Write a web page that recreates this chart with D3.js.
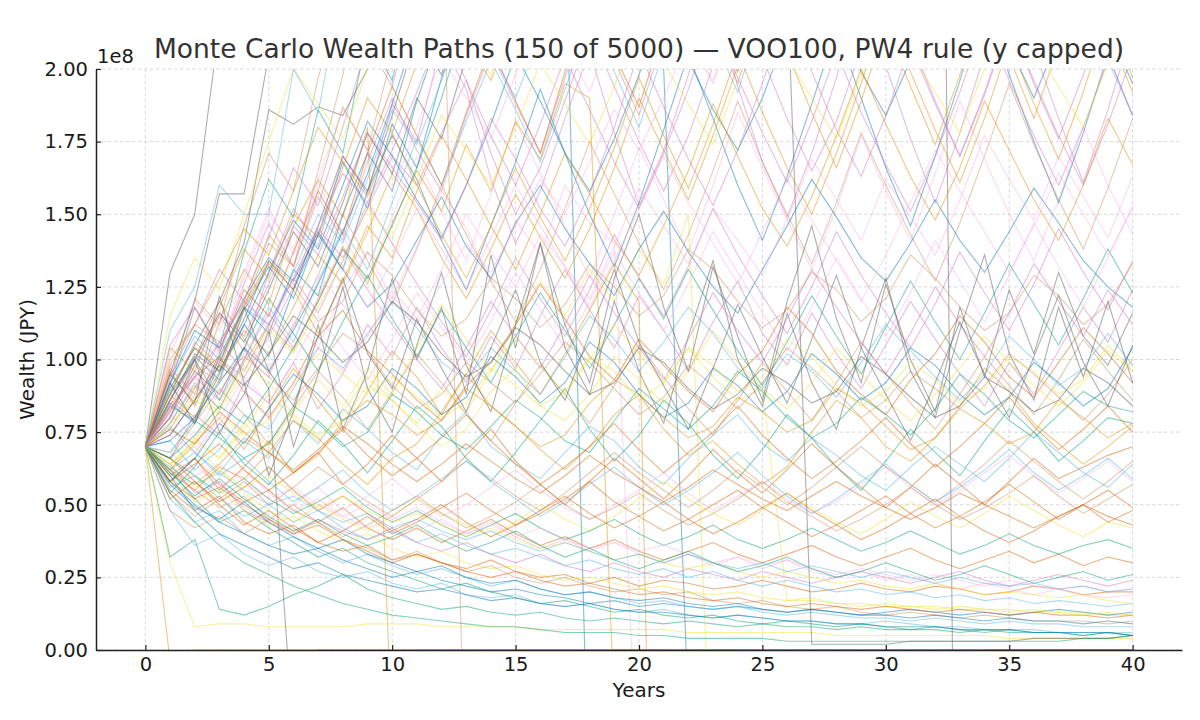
<!DOCTYPE html>
<html>
<head>
<meta charset="utf-8">
<script src="https://cdn.jsdelivr.net/npm/d3@7"></script>
<style>
  body { margin: 0; background: #fff; }
  svg { display: block; font-family: 'DejaVu Sans', sans-serif; }
</style>
</head>
<body>
<script>
// values are in millions of JPY (axis shows them as x1e8)
const years = [0,1,2,3,4,5,6,7,8,9,10,11,12,13,14,15,16,17,18,19,20,21,22,23,24,25,26,27,28,29,30,31,32,33,34,35,36,37,38,39,40]
const xTickValues = [0,5,10,15,20,25,30,35,40]
const yTickValues = [0,25,50,75,100,125,150,175,200]
const palette = ['#0173b2','#de8f05','#029e73','#d55e00','#cc78bc','#ca9161','#fbafe4','#555555','#ece133','#56b4e9']

const wealthPaths = [
  [70, 84,79,101,118,109,131,122,150,171,158, 189,214,236,201,229,262,250,-62,0,0, 0,0,0,0,0,0,0,0,0,0, 0,0,0,0,0,0,0,0,0,0],
  [70, -4,0,0,0,0,0,0,0,0,0, 0,0,0,0,0,0,0,0,0,0, 0,0,0,0,0,0,0,0,0,0, 0,0,0,0,0,0,0,0,0,0],
  [70, 32,38,14,12,15,19,22,26,21,18, 16,14,15,13,12,13,11,10,11,10, 9,10,9,8,9,8,8,7,8,7, 7,7,6,7,6,6,6,5,6,5],
  [70, 55,48,53,44,40,43,37,34,36,31, 33,30,28,31,27,25,26,23,25,22, 24,23,21,22,24,22,20,21,23,21, 20,22,21,19,20,22,21,19,20,20],
  [70, 66,81,74,92,85,99,83,95,112,101, 118,104,92,108,97,115,131,117,104,122, 110,96,113,127,109,98,116,102,90,105, 120,107,95,84,99,88,103,118,106,124],
  [70, 93,121,112,146,171,158,197,224,205,252, 238,283,264,311,290,341,319,362,335,388, 360,412,386,440,415,469,441,498,470,530, 500,560,528,590,556,620,585,650,612,680],
  [70, 81,73,89,102,94,113,104,124,137,121, 139,158,145,127,148,136,160,147,140,-60, 0,0,0,0,0,0,0,0,0,0, 0,0,0,0,0,0,0,0,0,0],
  [70, 130,150,215,260,300,330,310,360,400,380, 420,450,430,480,510,470,520,560,540,590, 620,600,650,700,680,720,750,730,780,820, 800,850,880,860,900,940,920,960,1000,980],
  [70, 30,8,9,9,8,8,8,8,9,9, 9,8,8,8,8,7,7,7,7,7, 7,6,6,6,6,6,6,5,5,5, 5,5,5,5,4,4,4,4,4,4],
  [70, 77,68,61,72,66,79,71,83,76,68, 62,74,82,70,64,59,68,77,72,63, 57,66,74,81,71,65,73,67,60,55, 63,70,64,58,66,75,68,61,56,64],

  [70, 86,101,93,117,132,121,143,168,152,181, 166,197,220,203,238,216,249,231,212,244, 200,-20,0,0,0,0,0,0,0,0, 0,0,0,0,0,0,0,0,0,0],
  [70, 97,88,113,131,119,146,162,149,180,-30, 0,0,0,0,0,0,0,0,0,0, 0,0,0,0,0,0,0,0,0,0, 0,0,0,0,0,0,0,0,0,0],
  [70, 91,118,104,137,162,149,186,171,212,196, 234,218,262,241,223,255,238,281,259,302, 280,325,298,276,312,290,339,312,360,334, 384,355,330,372,344,396,368,420,389,440],
  [70, 58,66,55,63,72,61,68,57,64,74, 66,58,67,76,65,57,50,58,66,59, 52,60,69,61,54,62,71,63,56,49, 56,64,57,50,58,66,59,63,67,70],
  [70, 80,98,115,103,130,152,139,170,157,188, 175,209,193,162,140,158,183,206,178,153, 172,198,226,194,168,149,171,197,228,201, 176,154,178,205,236,207,183,161,186,214],
  [70, 62,55,49,53,45,41,44,38,35,31, 34,30,27,29,25,23,25,22,20,21, 19,20,17,16,17,15,14,15,13,12, 13,12,11,12,11,10,10,10,9,10],
  [70, 90,118,102,130,152,136,161,143,127,149, 170,151,134,157,182,164,146,128,150,173, 155,137,160,185,166,148,131,152,177,158, 141,164,189,169,150,134,155,180,160,143],
  [70, 82,96,88,104,90,-30,0,0,0,0, 0,0,0,0,0,0,0,0,0,0, 0,0,0,0,0,0,0,0,0,0, 0,0,0,0,0,0,0,0,0,0],
  [70, 62,73,66,78,70,82,93,84,97,88, 104,119,107,96,112,127,115,131,120,138, 126,150,-60,0,0,0,0,0,0,0, 0,0,0,0,0,0,0,0,0,0],
  [70, 48,36,40,33,29,32,27,25,27,23, 21,23,19,18,19,16,15,16,14,13, 14,12,11,12,11,10,10,9,9,10, 9,8,8,7,7,7,6,6,6,6],

  [70, 85,78,95,112,101,124,143,131,158,177, 162,141,124,146,168,193,171,150,132,154, 179,205,183,160,141,163,188,214,190,166, 146,170,196,224,198,175,154,178,205,184],
  [70, 78,91,83,99,112,103,121,139,126,147, 165,151,174,158,182,169,195,190,-20,0, 0,0,0,0,0,0,0,0,0,0, 0,0,0,0,0,0,0,0,0,0],
  [70, 88,100,86,104,121,109,96,113,129,114, 101,117,104,92,108,123,110,97,112,128, 114,131,117,103,91,106,122,108,95,111, 127,113,100,116,133,119,105,121,138,123],
  [70, 60,66,57,51,55,48,44,49,42,38, 42,37,41,45,40,36,39,35,38,34, 31,34,37,33,30,33,36,32,29,32, 35,31,28,31,34,30,33,29,32,30],
  [70, 105,118,103,126,147,132,156,141,168,190, 172,158,184,206,188,171,197,221,203,184, 211,236,214,195,223,250,227,206,234,262, 239,217,246,274,249,226,256,285,259,236],
  [70, 66,78,90,81,71,83,96,87,76,89, 102,92,81,72,85,98,88,78,91,105, 94,83,74,86,99,89,79,92,106,95, 85,76,88,101,91,81,93,107,96,86],
  [70, 60,52,58,49,44,50,56,48,53,59, 52,46,50,56,62,55,49,45,50,55, 61,54,48,53,58,52,47,51,57,63, 56,50,55,61,67,60,54,59,65,58],
  [70, 95,120,157,157,205,240,220,270,300,290, 330,310,350,380,360,400,420,390,440,470, 450,490,520,500,540,560,530,580,610,600, 640,660,630,680,700,690,730,760,740,780],
  [70, 64,72,66,76,88,80,72,82,94,86, 78,90,82,96,108,98,88,100,112,102, 92,104,94,86,90,17,17,16,16,15, 15,15,14,14,14,13,13,13,12,12],
  [70, 78,92,83,100,118,106,127,145,131,154, 176,160,182,203,186,168,193,217,199,180, 206,231,211,192,219,245,224,204,232,258, 236,215,243,270,247,225,254,281,258,236],

  [70, 58,50,44,40,36,33,35,31,28,25, 27,24,22,20,21,19,18,16,17,15, 16,15,14,15,14,13,14,13,12,13, 14,13,12,13,12,13,14,13,12,13],
  [70, 62,71,80,69,83,97,86,75,89,103, 94,81,95,110,99,88,102,117,133,120, -280,0,0,0,0,0,0,0,0,0, 0,0,0,0,0,0,0,0,0,0],
  [70, 54,63,75,64,57,67,79,71,61,72, 84,77,66,58,68,79,90,76,65,74, 86,78,67,59,69,81,73,63,55,65, 76,68,60,72,83,75,65,72,80,78],
  [70, 96,84,102,124,115,137,158,143,171,194, 177,160,185,208,189,171,199,226,205,187, 214,243,220,199,228,258,234,212,242,273, 248,225,256,288,262,237,269,302,274,248],
  [70, 64,54,58,48,44,40,45,41,38,42, 37,34,37,33,30,33,29,27,30,27, 25,28,26,24,27,25,23,25,27,25, 23,25,27,24,22,24,26,24,22,24],
  [70, 84,100,120,107,95,111,129,150,134,119, 138,160,143,127,113,131,152,175,157,140, 124,143,165,189,168,150,133,154,178,160, 143,127,147,170,195,174,155,138,159,183],
  [70, 76,68,80,94,85,99,115,104,93,107, 123,111,99,113,130,117,104,120,137,123, 110,126,144,130,116,103,118,135,121,108, 123,141,127,113,129,147,132,118,135,153],
  [70, 88,105,120,140,186,181,187,184,200,230, 260,240,280,300,290,320,340,320,350,380, 360,390,420,400,430,460,440,470,500,480, 510,540,520,550,580,560,590,620,600,630],
  [70, 64,56,62,54,48,44,50,45,41,46, 52,47,43,39,44,50,45,41,46,52, 58,52,47,43,48,54,49,44,40,45, 51,46,42,47,53,48,43,39,44,42],
  [70, 52,44,48,40,36,39,34,30,33,29, 26,28,25,22,24,21,19,20,18,16, 17,15,14,15,13,12,13,12,11,11, 10,11,10,9,10,9,9,8,8,8],

  [70, 90,104,96,112,130,148,138,160,182,170, 155,142,160,181,205,189,171,158,176,198, 221,203,186,172,190,213,239,218,199,184, 203,226,252,229,208,190,211,236,214,195],
  [70, 61,55,63,59,68,79,73,64,57,66, 71,82,95,84,77,69,62,70,81,88, 76,67,72,64,57,63,75,86,80,70, 65,73,84,97,89,78,71,64,70,77],
  [70, 66,60,54,59,52,47,51,56,49,44, 48,43,39,43,47,42,38,41,45,40, 36,39,43,38,35,38,42,38,34,37, 41,37,33,36,40,36,33,36,38,35],
  [70, 83,94,101,89,80,92,108,117,103,95, 86,79,91,99,112,126,114,101,93,107, 98,89,82,95,103,118,109,96,88,81, 93,102,115,106,94,87,99,111,102,92],
  [70, 74,86,100,94,108,125,145,135,152,170, 160,178,196,171,150,166,189,213,194,175, 158,177,201,226,204,183,165,182,207,233, 210,189,170,191,216,195,176,198,224,203],
  [70, 54,46,52,58,50,56,63,57,51,46, 52,58,65,59,53,48,54,61,68,61, 55,49,55,62,56,50,56,63,70,63, 57,51,57,64,72,65,58,52,58,65],
  [70, 102,120,110,128,150,138,162,186,172,158, 180,204,190,176,198,222,208,192,216,240, 225,210,195,218,242,228,212,236,260,245, 230,252,276,262,248,270,255,240,262,285],
  [70, 86,100,116,106,124,144,132,154,178,164, 190,176,204,232,214,246,228,262,240,226, 258,236,218,244,272,230,2,2,2,2, 3,3,3,3,3,4,4,4,4,5],
  [70, 64,72,85,98,92,81,74,79,91,86, 77,70,76,89,97,84,79,88,101,93, 85,96,110,99,90,83,92,104,95,86, 79,88,97,108,99,91,84,92,103,96],
  [70, 56,60,52,46,50,44,48,42,38,41, 37,40,36,33,35,32,29,31,28,26, 28,25,27,24,22,24,22,20,21,19, 20,18,19,17,18,16,17,16,15,16],

  [70, 92,110,104,121,135,127,144,131,118,126, 141,156,139,128,147,160,145,133,122,138, 151,137,125,116,131,146,162,149,135,127, 140,155,141,130,144,159,147,134,125,118],
  [70, 88,80,96,110,102,118,136,126,144,164, 152,135,121,138,157,142,128,145,166,190, 172,155,177,201,229,206,185,166,189,215, 194,174,198,226,204,183,208,237,213,192],
  [70, 62,52,44,48,42,37,32,35,30,27, 24,21,23,20,18,16,17,15,13,14, 12,11,12,10,9,10,9,8,9,8, 7,8,7,6,7,6,6,5,6,5],
  [70, 66,58,51,56,63,55,48,53,47,41, 45,50,44,39,43,48,53,47,42,46, 51,45,40,44,49,54,48,43,38,42, 47,52,46,41,37,41,46,50,44,48],
  [70, 76,90,106,96,112,128,116,134,154,140, 126,113,101,117,135,121,108,124,143,128, 115,132,152,136,122,109,125,144,129,116, 104,119,137,123,110,126,145,130,117,134],
  [70, 82,98,92,118,140,132,165,198,240,228, 275,310,296,350,390,372,420,460,440,490, 530,505,560,600,575,630,670,645,700,740, 715,770,810,785,840,880,855,910,950,930],
  [70, 58,64,56,62,54,48,52,46,42,46, 41,45,40,44,39,35,38,34,37,33, 30,33,29,32,28,31,27,25,27,24, 26,23,21,23,21,19,21,19,18,19],
  [70, 86,102,96,114,134,124,146,170,158,184, 212,198,230,262,246,280,310,292,330,360, 340,380,410,390,430,460,440,480,510,490, 530,560,-240,0,0,0,0,0,0,0],
  [70, 115,135,124,150,175,200,188,176,200,222, 240,225,210,198,220,245,268,252,236,222, 245,270,255,240,226,250,274,260,244,230, 254,278,262,248,272,296,280,264,250,274],
  [70, 72,62,69,81,76,90,104,97,109,120, 111,99,93,104,96,88,101,115,107,96, 106,118,109,97,90,102,96,87,99,112, 103,94,86,95,108,100,91,97,109,98],

  [70, 60,48,40,36,32,28,30,26,24,22, 20,21,19,17,18,16,15,16,14,13, 13,12,11,12,11,10,10,9,9,8, 8,8,7,7,7,6,6,6,6,5],
  [70, 98,112,128,145,136,158,180,168,156,178, 160,143,128,146,166,149,134,152,173,197, 177,159,181,206,185,166,150,171,195,222, 199,179,161,183,209,188,169,192,219,197],
  [70, 68,79,73,66,71,84,78,70,75,88, 82,74,69,77,86,80,72,68,79,90, 83,76,84,96,89,80,73,78,87,81, 74,83,95,88,79,73,81,89,84,82],
  [70, 58,64,71,62,55,61,68,76,67,60, 66,73,81,72,64,57,63,70,78,69, 61,68,75,84,74,66,59,65,72,80, 71,63,70,78,87,77,69,76,84,75],
  [70, 86,100,116,108,126,146,136,156,178,166, 154,141,160,183,169,152,139,157,180,206, 187,169,153,172,195,221,199,179,163,184, 208,188,170,192,217,196,177,160,181,205],
  [70, 86,79,93,101,94,86,97,109,103,91, 83,88,99,92,85,95,106,99,90,81, 87,98,91,83,92,104,97,89,80,86, 96,90,83,91,102,95,87,79,88,100],
  [70, 98,86,104,122,110,128,146,132,118,134, 152,138,124,142,160,146,132,118,134,152, 170,154,140,126,144,162,148,134,120,136, 154,172,158,144,130,146,164,150,136,152],
  [70, 95,85,122,92,60,82,112,76,96,128, 100,118,88,136,104,140,112,92,128,150, 118,96,132,108,86,120,146,114,92,126, 100,82,118,94,124,102,130,108,98,116],
  [70, 64,70,62,56,60,54,49,53,48,44, 47,43,39,42,38,35,37,34,31,33, 30,28,30,27,25,27,25,23,24,22, 21,23,21,19,20,19,18,19,17,16],
  [70, 92,108,100,118,112,130,150,140,162,186, 174,196,220,206,190,212,236,220,204,226, 250,234,218,240,264,248,232,254,278,262, 246,268,292,276,260,282,306,290,274,296],

  [70, 58,66,78,71,83,95,88,79,84,97, 90,81,87,101,94,85,92,106,99,88, 80,85,97,91,82,89,102,95,86,92, 104,98,88,81,87,99,92,84,90,104],
  [70, 104,96,118,138,128,150,142,166,190,178, 202,226,210,196,218,242,226,210,234,258, 242,226,250,274,258,242,266,290,274,258, 282,306,290,274,298,322,306,290,314,338],
  [70, 54,44,36,30,26,22,19,16,14,12, 11,10,9,8,8,7,6,6,6,5, 5,4,4,4,4,3,3,3,3,3, 3,3,3,3,3,3,3,4,4,5],
  [70, 52,58,50,43,48,42,37,41,46,40, 44,49,54,48,43,47,52,58,51,46, 41,45,50,55,49,44,39,43,48,53, 47,42,46,51,57,51,45,50,55,49],
  [70, 84,94,106,120,112,128,146,164,154,172, 192,214,196,177,160,181,204,186,168,152, 171,193,218,197,178,161,182,206,185,167, 151,170,192,217,196,177,160,180,203,184],
  [70, 100,112,106,119,134,126,113,120,137,129, 117,108,114,128,121,111,119,133,125,115, 122,138,131,120,111,117,130,124,113,121, 136,128,118,110,116,129,122,112,119,133],
  [70, 68,60,64,58,52,56,50,46,50,45, 49,44,40,43,39,42,38,35,37,34, 36,33,30,32,29,31,28,26,28,26, 24,26,24,22,24,22,21,22,20,21],
  [70, 80,100,75,88,110,70,95,125,90,75, 105,130,98,82,112,140,104,88,120,96, 78,108,134,100,84,116,92,76,104,128, 96,80,110,136,102,86,118,94,120,92],
  [70, 76,88,82,96,110,102,118,134,152,142, 162,184,172,160,180,202,188,174,194,216, 202,188,174,196,218,204,190,176,198,220, 206,192,178,200,222,208,194,180,202,224],
  [70, 62,68,60,66,58,51,56,62,54,48, 53,59,65,58,52,46,51,57,63,56, 50,55,61,68,60,53,47,52,58,64, 57,51,56,62,69,61,55,60,66,59],

  [70, 72,80,92,104,96,110,126,144,164,188, 214,245,230,262,298,280,320,300,340,380, 360,400,440,420,460,500,480,520,560,540, 580,620,600,640,680,660,700,740,720,760],
  [70, 62,57,64,73,68,61,67,79,86,81, 74,79,90,84,77,70,74,85,93,88, 80,73,77,87,82,75,79,90,85,77, 69,73,83,78,71,75,86,80,73,78],
  [70, 66,74,84,78,90,104,120,138,128,146, 166,190,218,204,232,262,246,276,310,292, 326,362,342,380,420,398,440,480,458,500, 540,518,560,600,578,620,660,640,680,720],
  [70, 58,52,56,50,45,40,43,38,34,30, 33,30,27,25,27,24,22,23,21,19, 20,18,17,18,16,15,16,15,14,15, 14,13,14,13,12,13,12,12,11,12],
  [70, 80,94,86,100,116,104,120,138,124,112, 100,90,104,120,108,97,112,129,116,104, 93,107,123,110,99,114,131,118,106,95, 109,125,112,101,116,133,120,108,124,112],
  [70, 48,42,46,40,45,50,44,39,43,48, 53,47,42,46,51,57,50,45,49,54, 48,43,47,52,58,51,46,41,45,50, 56,50,45,49,54,60,53,47,52,57],
  [70, 74,68,78,88,80,92,104,96,108,122, 112,126,140,130,146,162,150,168,186,172, 190,210,196,218,240,224,248,272,256,282, 308,290,318,346,326,356,386,364,396,428],
  [70, 74,86,98,91,102,115,108,99,106,120, 113,102,94,99,111,105,96,88,92,104, 99,90,83,88,97,92,85,89,101,95, 87,80,84,94,89,82,86,97,92,84],
  [70, 78,86,81,74,79,91,102,95,88,94, 87,80,85,97,91,84,89,101,96,86, 92,104,98,89,94,107,101,91,84,89, 99,93,85,90,101,96,88,93,105,96],
  [70, 110,125,160,150,150,200,185,230,250,240, 260,290,270,300,330,310,340,360,330,370, 400,380,420,450,430,470,490,460,500,530, 510,550,570,540,580,610,590,620,650,630],

  [70, 57,49,45,51,44,39,35,38,33,30, 27,29,25,23,24,21,19,20,18,17, 18,16,15,16,14,13,14,13,12,12, 11,12,11,10,11,10,10,9,10,9],
  [70, 89,104,97,118,133,124,109,127,146,135, 158,177,162,146,131,150,171,157,141,129, 146,165,188,170,152,139,156,177,200,181, 163,148,166,189,172,155,141,160,183,167],
  [70, 61,53,59,52,46,41,45,40,36,39, 43,38,34,37,41,36,32,35,31,28, 31,34,30,27,29,32,28,25,27,30, 27,24,26,29,26,23,25,27,24,26],
  [70, 76,71,82,75,68,62,69,77,71,64, 58,64,71,65,59,54,60,67,61,56, 51,56,62,57,52,48,53,58,53,49, 45,49,54,50,46,42,46,50,46,43],
  [70, 94,112,131,120,142,166,153,180,209,194, 228,211,246,283,262,300,278,320,295,340, 310,355,330,380,350,400,368,420,390,450, 415,470,435,495,460,520,480,545,505,570],
  [70, 88,106,98,120,143,132,158,187,172,205, 238,260,-60,0,0,0,0,0,0,0, 0,0,0,0,0,0,0,0,0,0, 0,0,0,0,0,0,0,0,0,0],
  [70, 82,95,88,103,97,112,129,119,108,124, 114,131,150,137,125,143,132,121,139,159, 146,133,152,141,129,148,169,155,141,162, 149,136,155,177,162,148,170,156,142,163],
  [70, 92,78,99,118,96,84,108,128,102,90, 114,97,82,104,124,99,86,109,131,106, 91,76,97,119,101,85,107,129,104,88, 72,92,113,95,80,101,122,99,84,105],
  [70, 59,51,55,48,43,46,41,37,40,35, 32,34,30,28,29,26,24,25,23,21, 22,20,19,20,18,17,18,16,15,16, 15,14,15,14,13,14,13,12,13,12],
  [70, 63,57,61,55,50,53,48,44,47,42, 45,41,38,41,37,34,37,34,31,33, 30,33,30,28,30,27,29,27,25,27, 25,23,25,23,22,23,21,22,20,21]
]

const width = 1200
const height = 720
const plot = { left: 96, right: 1182, top: 69, bottom: 650 }

const svg = d3.select('body')
  .append('svg')
  .attr('width', width)
  .attr('height', height)

const x = d3.scaleLinear().domain([-2, 42]).range([plot.left, plot.right])
const y = d3.scaleLinear().domain([0, 200]).range([plot.bottom, plot.top])

svg.append('defs')
  .append('clipPath')
  .attr('id', 'plot-clip')
  .append('rect')
  .attr('x', plot.left)
  .attr('y', plot.top)
  .attr('width', plot.right - plot.left)
  .attr('height', plot.bottom - plot.top)

// dashed grid
const grid = svg.append('g').attr('stroke', '#cfcfcf').attr('stroke-width', 0.8).attr('stroke-dasharray', '3.5,2.5')
grid.selectAll('line.vx')
  .data(xTickValues)
  .enter()
  .append('line')
  .attr('x1', d => x(d)).attr('x2', d => x(d))
  .attr('y1', plot.top).attr('y2', plot.bottom)
grid.selectAll('line.hy')
  .data(yTickValues)
  .enter()
  .append('line')
  .attr('x1', plot.left).attr('x2', plot.right)
  .attr('y1', d => y(d)).attr('y2', d => y(d))

// wealth paths
const line = d3.line()
  .x((d, i) => x(years[i]))
  .y(d => y(d))

svg.append('g')
  .attr('clip-path', 'url(#plot-clip)')
  .selectAll('path')
  .data(wealthPaths)
  .enter()
  .append('path')
  .attr('d', d => line(d.slice(0, years.length)))
  .attr('fill', 'none')
  .attr('stroke', (d, i) => palette[i % palette.length])
  .attr('stroke-width', 1.1)
  .attr('stroke-opacity', 0.48)

// axes, ticks pointing inward
const xAxis = d3.axisBottom(x).tickValues(xTickValues).tickSize(-5).tickSizeOuter(0).tickPadding(7)
const yAxis = d3.axisLeft(y).tickValues(yTickValues).tickSize(-5).tickSizeOuter(0).tickPadding(8)
  .tickFormat(d => (d / 100).toFixed(2))

const gx = svg.append('g')
  .attr('transform', 'translate(0,' + plot.bottom + ')')
  .call(xAxis)
const gy = svg.append('g')
  .attr('transform', 'translate(' + plot.left + ',0)')
  .call(yAxis)

;[gx, gy].forEach(g => {
  g.select('.domain').attr('stroke', '#222').attr('stroke-width', 1.5)
  g.selectAll('.tick line').attr('stroke', '#222').attr('stroke-width', 1.2)
  g.selectAll('.tick text')
    .attr('fill', '#1a1a1a')
    .style('font-size', '19.5px')
    .style('font-family', "'DejaVu Sans', sans-serif")
})

svg.append('text')
  .attr('x', plot.left + 1)
  .attr('y', 63)
  .attr('fill', '#1a1a1a')
  .style('font-size', '19.5px')
  .text('1e8')

svg.append('text')
  .attr('x', (plot.left + plot.right) / 2)
  .attr('y', 58)
  .attr('text-anchor', 'middle')
  .attr('fill', '#333')
  .style('font-size', '26.5px')
  .text('Monte Carlo Wealth Paths (150 of 5000) — VOO100, PW4 rule (y capped)')

svg.append('text')
  .attr('x', (plot.left + plot.right) / 2)
  .attr('y', 697)
  .attr('text-anchor', 'middle')
  .attr('fill', '#1a1a1a')
  .style('font-size', '20px')
  .text('Years')

svg.append('text')
  .attr('transform', 'translate(34,' + (plot.top + plot.bottom) / 2 + ') rotate(-90)')
  .attr('text-anchor', 'middle')
  .attr('fill', '#1a1a1a')
  .style('font-size', '20px')
  .text('Wealth (JPY)')
</script>
</body>
</html>
